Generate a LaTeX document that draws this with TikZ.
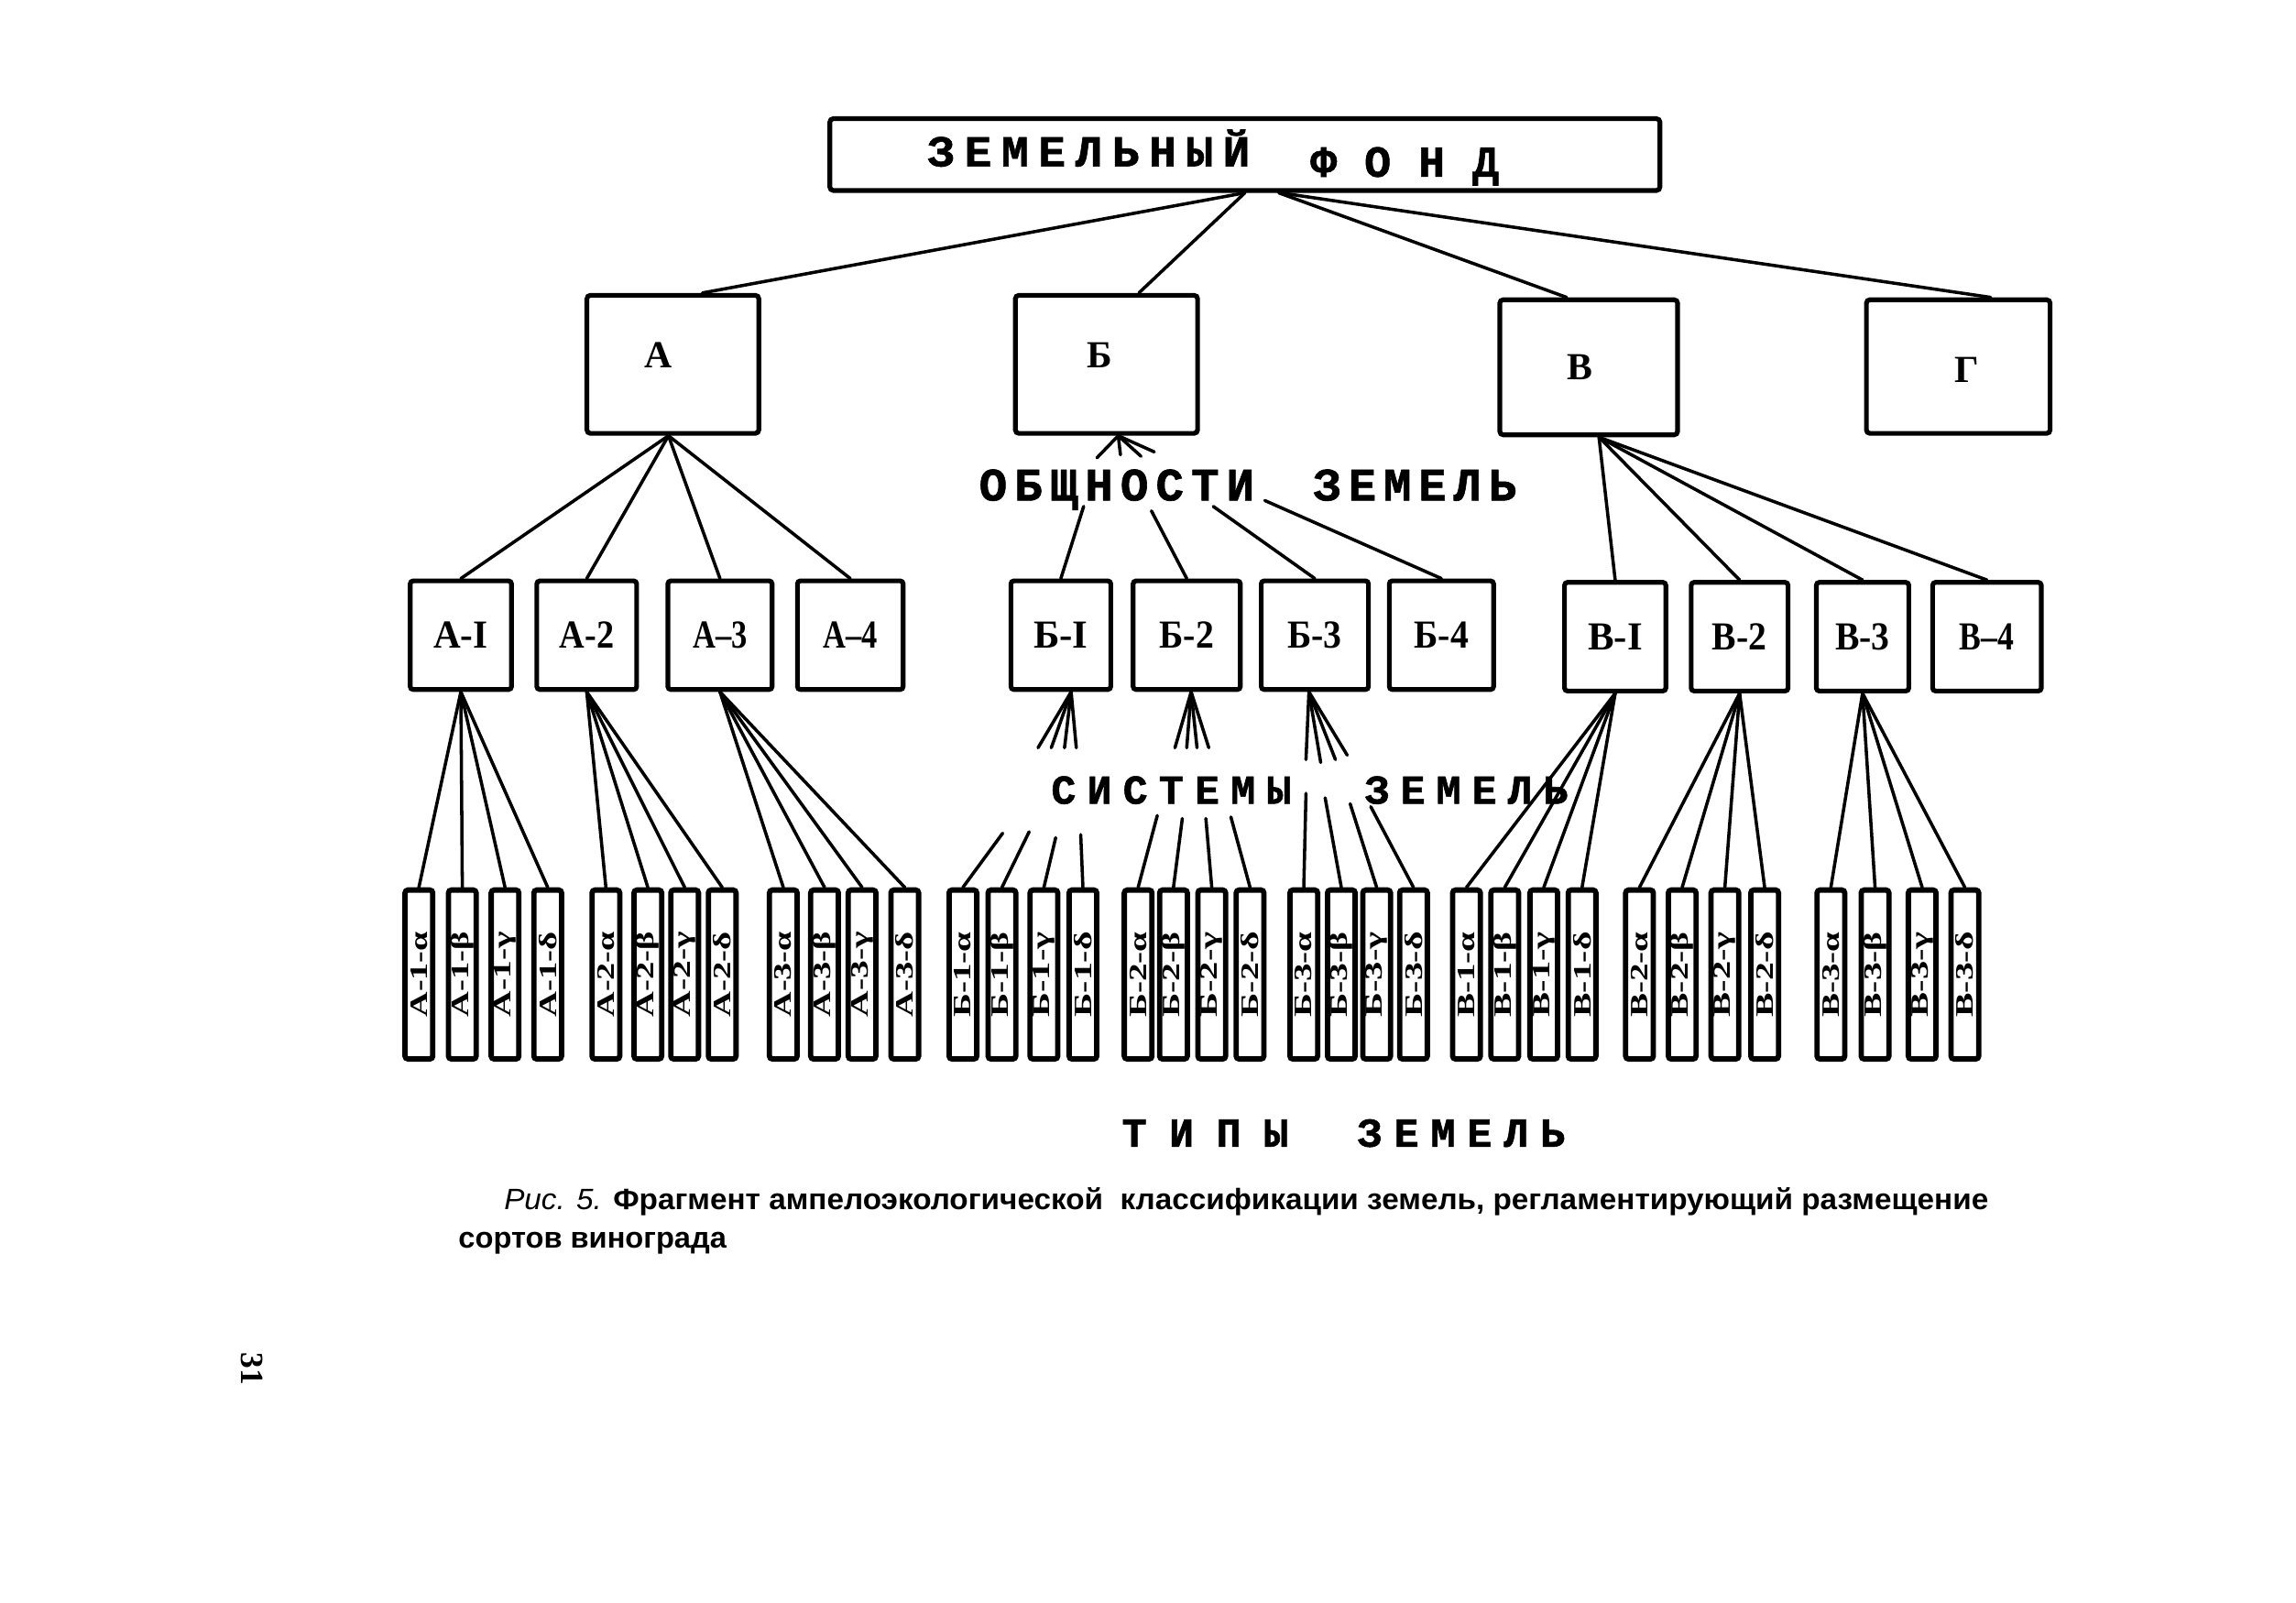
\documentclass[tikz,border=0pt]{standalone}
\usepackage{fontspec}
\usepackage{graphicx}
\setmainfont{Liberation Serif}
\newfontfamily\twfont[FakeBold=1.2]{Liberation Mono}
\newfontfamily\capfont{Liberation Sans}
\newdimen\lskd
\def\lspcA#1{\ifx#1\relax\unkern\else#1\kern\lskd\expandafter\lspcA\fi}
\newcommand\spword[3]{\resizebox{#1}{\height}{\lskd=#2\relax\lspcA#3\relax}}
\newcommand\tlab[1]{\rotatebox{90}{\resizebox{29pt}{\height}{\fontsize{8.5}{9}\selectfont\bfseries #1}}}
\newcommand\mlab[1]{\resizebox{18.5pt}{\height}{\fontsize{13.5}{14}\selectfont\bfseries #1}}
\begin{document}
\begin{tikzpicture}[x=0.5pt,y=-0.5pt,
  bigbox/.style={draw, line width=1.6pt, rounded corners=1.2pt, inner sep=0pt},
  midbox/.style={draw, line width=1.6pt, rounded corners=1pt, inner sep=0pt, minimum height=36.9pt},
  tbox/.style={draw, line width=1.8pt, rounded corners=1pt, inner sep=0pt, minimum width=9.4pt, minimum height=57.4pt},
  conn/.style={line width=1.1pt, line cap=round},
  txt/.style={inner sep=0pt, anchor=base},
  tw/.style={font=\twfont\bfseries\fontsize{15}{16}\selectfont},
  big/.style={font=\bfseries\fontsize{13}{14}\selectfont}]

\fill[white] (0,0) rectangle (1559.4,1088.4);
\useasboundingbox (0,0) rectangle (1559.4,1088.4);

% top box
\node[bigbox, minimum width=281.9pt, minimum height=24.4pt] (fond) at (845.5,105) {};
\node[txt, tw] (fondA) at (739.5,113) {\spword{109.5pt}{3.2pt}{ЗЕМЕЛЬНЫЙ}};
\node[txt, tw] (fondB) at (954,120) {\spword{64pt}{9.3pt}{ФОНД}};

% level 2
\node[bigbox, minimum width=58.4pt, minimum height=46.9pt] (A) at (457,247.5) {};
\node[bigbox, minimum width=61.9pt, minimum height=46.9pt] (B) at (751.5,247.5) {};
\node[bigbox, minimum width=60.4pt, minimum height=45.9pt] (V) at (1079,249.5) {};
\node[bigbox, minimum width=62.4pt, minimum height=45.4pt] (G) at (1330,249) {};
\node[txt, big] (tA) at (447,250) {А};
\node[txt, big] (tB) at (747,250) {Б};
\node[txt, big] (tV) at (1073,258) {В};
\node[txt, big] (tG) at (1336,260) {Г};

\draw[conn] (fond.south) -- ([xshift=10pt]A.north);
\draw[conn] (fond.south) -- ([xshift=11pt]B.north);
\draw[conn] ([xshift=11.5pt]fond.south) -- ([xshift=-7.5pt]V.north);
\draw[conn] ([xshift=12pt]fond.south) -- ([xshift=11pt]G.north);

% level 3
\foreach \n/\x/\w/\t in {A1/313/34.4/А-I, A2/398.5/33.9/А-2, A3/489/35.4/А–3, A4/577.5/35.9/А–4,
  B1/720.5/33.9/Б-I, B2/806/36.4/Б-2, B3/893/36.4/Б-3, B4/979/35.4/Б-4}
  \node[midbox, minimum width=\w pt] (\n) at (\x,431.5) {\mlab{\t}};
\foreach \n/\x/\w/\t in {V1/1097/34.4/В-I, V2/1181.5/32.9/В-2, V3/1265/31.4/В-3, V4/1349.5/36.9/В–4}
  \node[midbox, minimum width=\w pt] (\n) at (\x,432.5) {\mlab{\t}};

\foreach \c in {A1,A2,A3,A4} \draw[conn] ([xshift=-1.5pt]A.south) -- (\c.north);
\foreach \c in {V1,V2,V3,V4} \draw[conn] ([xshift=3.5pt]V.south) -- (\c.north);

% community label
\node[txt, font=\twfont\bfseries\fontsize{15.8}{16}\selectfont] (obsh) at (758.5,340) {\spword{93.5pt}{2.5pt}{ОБЩНОСТИ}};
\node[txt, font=\twfont\bfseries\fontsize{15.8}{16}\selectfont] (obshZ) at (961,340) {\spword{69pt}{2.4pt}{ЗЕМЕЛЬ}};

\coordinate (bf1) at (745,311); \coordinate (bf2) at (761,309);
\coordinate (bf3) at (775,310); \coordinate (bf4) at (784,307);
\foreach \c in {bf1,bf2,bf3,bf4} \draw[conn] ([xshift=4pt]B.south) -- (\c);

\coordinate (os1) at (736,344); \coordinate (os2) at (782,347);
\coordinate (os3) at (824,344); \coordinate (os4) at (859,340);
\draw[conn] (os1) -- (B1.north);
\draw[conn] (os2) -- (B2.north);
\draw[conn] (os3) -- (B3.north);
\draw[conn] (os4) -- (B4.north);

% level 4
\foreach \n/\x/\t in {
  a11/284.5/А-1-α, a12/314/А-1-β, a13/343/А-1-γ, a14/372/А-1-δ,
  a21/411.5/А-2-α, a22/440/А-2-β, a23/465/А-2-γ, a24/490.5/А-2-δ,
  a31/532/А-3-α, a32/560/А-3-β, a33/585.5/А-3-γ, a34/614.5/А-3-δ,
  b11/654/Б-1-α, b12/680.5/Б-1-β, b13/709/Б-1-γ, b14/735.5/Б-1-δ,
  b21/773/Б-2-α, b22/797/Б-2-β, b23/823/Б-2-γ, b24/849/Б-2-δ,
  b31/885.5/Б-3-α, b32/911/Б-3-β, b33/935/Б-3-γ, b34/960/Б-3-δ,
  v11/996/В-1-α, v12/1022/В-1-β, v13/1048.5/В-1-γ, v14/1074.5/В-1-δ,
  v21/1113.5/В-2-α, v22/1142.5/В-2-β, v23/1171.5/В-2-γ, v24/1198.5/В-2-δ,
  v31/1243.5/В-3-α, v32/1273.5/В-3-β, v33/1305.5/В-3-γ, v34/1334.5/В-3-δ}
  \node[tbox] (\n) at (\x,662) {\tlab{\t}};

\foreach \p/\c in {A1/a11,A1/a12,A1/a13,A1/a14,A2/a21,A2/a22,A2/a23,A2/a24,
  A3/a31,A3/a32,A3/a33,A3/a34,V1/v11,V1/v12,V1/v13,V1/v14,
  V2/v21,V2/v22,V2/v23,V2/v24,V3/v31,V3/v32,V3/v33,V3/v34}
  \draw[conn] (\p.south) -- (\c.north);

% systems label
\node[txt, font=\twfont\bfseries\fontsize{14}{15}\selectfont] (sist) at (795.5,546) {\spword{81.5pt}{3.8pt}{СИСТЕМЫ}};
\node[txt, font=\twfont\bfseries\fontsize{14}{15}\selectfont] (sistZ) at (996,546) {\spword{69pt}{3.7pt}{ЗЕМЕЛЬ}};

\coordinate (u11) at (705,508); \coordinate (u12) at (714,508);
\coordinate (u13) at (723,508); \coordinate (u14) at (731,508);
\coordinate (u21) at (798,508); \coordinate (u22) at (806,508);
\coordinate (u23) at (813,508); \coordinate (u24) at (821,508);
\coordinate (u31) at (887,516); \coordinate (u32) at (897,518);
\coordinate (u33) at (907,516); \coordinate (u34) at (915,513);
\foreach \c in {u11,u12,u13,u14} \draw[conn] ([xshift=3.5pt]B1.south) -- (\c);
\foreach \c in {u21,u22,u23,u24} \draw[conn] ([xshift=1.5pt]B2.south) -- (\c);
\foreach \c in {u31,u32,u33,u34} \draw[conn] ([xshift=-2pt]B3.south) -- (\c);

\coordinate (l11) at (681,566); \coordinate (l12) at (699,565);
\coordinate (l13) at (717,569); \coordinate (l14) at (734,567);
\coordinate (l21) at (786,554); \coordinate (l22) at (803,556);
\coordinate (l23) at (819,556); \coordinate (l24) at (836,555);
\coordinate (l31) at (887,539); \coordinate (l32) at (900,542);
\coordinate (l33) at (917,546); \coordinate (l34) at (931,548);
\foreach \g in {1,2,3} \foreach \k in {1,2,3,4}
  \draw[conn] (l\g\k) -- (b\g\k.north);

% types label
\node[txt, font=\twfont\bfseries\fontsize{14}{15}\selectfont] (tipy) at (818.5,779) {\spword{56.5pt}{7.6pt}{ТИПЫ}};
\node[txt, font=\twfont\bfseries\fontsize{14}{15}\selectfont] (tipyZ) at (992.5,779) {\spword{70.5pt}{4pt}{ЗЕМЕЛЬ}};

% caption
\node[inner sep=0pt, anchor=base west, font=\capfont\fontsize{10}{11}\selectfont] (cap1) at (342,822)
  {\resizebox{504pt}{\height}{\textit{Рис. 5.} \textbf{Фрагмент ампелоэкологической\ \ классификации земель, регламентирующий размещение}}};
\node[inner sep=0pt, anchor=base west, font=\capfont\bfseries\fontsize{10}{11}\selectfont] (cap2) at (311,848)
  {\resizebox{91pt}{\height}{сортов винограда}};

% page number
\node[inner sep=0pt, rotate=-90, font=\bfseries\fontsize{11}{12}\selectfont] (pnum) at (171,930) {31};
\end{tikzpicture}
\end{document}
